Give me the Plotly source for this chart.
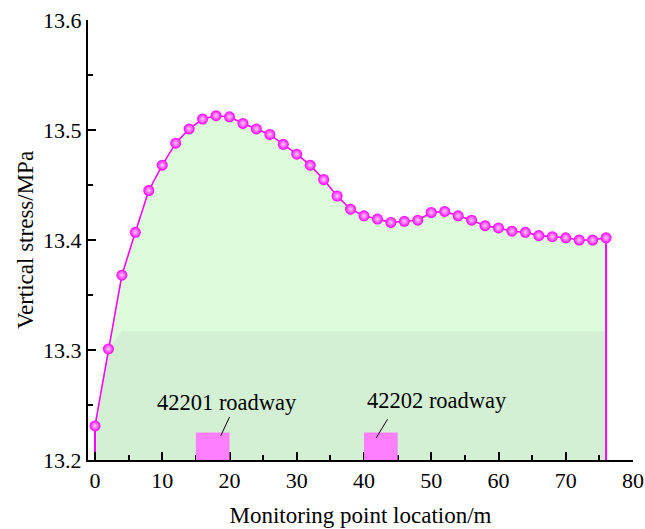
import plotly.graph_objects as go

x_pos = [0, 2, 4, 6, 8, 10, 12, 14, 16, 18, 20, 22, 24, 26, 28, 30, 32, 34, 36, 38,
         40, 42, 44, 46, 48, 50, 52, 54, 56, 58, 60, 62, 64, 66, 68, 70, 72, 74, 76]
stress = [13.231, 13.301, 13.368, 13.407, 13.445, 13.468, 13.488, 13.501, 13.510, 13.513,
          13.512, 13.506, 13.501, 13.496, 13.487, 13.478, 13.468, 13.455, 13.440, 13.428,
          13.422, 13.419, 13.416, 13.417, 13.418, 13.425, 13.426, 13.422, 13.418, 13.413,
          13.411, 13.408, 13.407, 13.404, 13.403, 13.402, 13.400, 13.400, 13.402]
band_level = 13.317
roadways = ["42201 roadway", "42202 roadway"]
road_x0 = [15, 40]
road_x1 = [20, 45]
road_top = 13.225
label_x = [19.7, 50.9]
label_y = [13.252, 13.254]
leader = [((20.0, 13.239), (18.7, 13.222)), ((43.5, 13.237), (41.8, 13.220))]

ymin, ymax = 13.2, 13.6
font = "Liberation Serif, Times New Roman, serif"

fig = go.Figure()
fig.add_trace(go.Scatter(x=x_pos, y=stress, mode="none", fill="tozeroy",
                         fillcolor="#dcfcdc", showlegend=False, hoverinfo="skip"))
fig.add_trace(go.Scatter(x=x_pos, y=[min(v, band_level) for v in stress], mode="none",
                         fill="tozeroy", fillcolor="#d4f0d4", showlegend=False, hoverinfo="skip"))
for xe, ye in [(x_pos[0], stress[0]), (x_pos[-1], stress[-1])]:
    fig.add_trace(go.Scatter(x=[xe, xe], y=[ymin, ye], mode="lines",
                             line=dict(color="#ff00ff", width=2), showlegend=False))
fig.add_trace(go.Scatter(x=x_pos, y=stress, mode="lines+markers",
                         line=dict(color="#ff00ff", width=1.6),
                         marker=dict(size=11, color="#ff00ff",
                                     gradient=dict(type="radial", color="#ffd0ff"),
                                     line=dict(width=0)),
                         showlegend=False))

for name, a, b, lx, ly, ((x1, y1), (x2, y2)) in zip(roadways, road_x0, road_x1, label_x, label_y, leader):
    fig.add_shape(type="rect", x0=a, x1=b, y0=ymin, y1=road_top,
                  fillcolor="#ff80ff", line=dict(width=0), layer="above")
    fig.add_shape(type="line", x0=x1, y0=y1, x1=x2, y1=y2,
                  line=dict(color="black", width=1))
    fig.add_annotation(x=lx, y=ly, text=name, showarrow=False,
                       font=dict(family=font, size=22.5, color="black"))

axis_common = dict(showline=True, linecolor="black", linewidth=2, ticks="inside",
                   tickcolor="black", tickwidth=2, ticklen=8, showgrid=False, zeroline=False,
                   automargin=False,
                   tickfont=dict(family=font, size=22, color="black"))
fig.update_xaxes(range=[-1.04, 80], dtick=10, tick0=0,
                 minor=dict(dtick=5, ticks="inside", ticklen=5, tickcolor="black", tickwidth=1.5),
                 title=dict(text="Monitoring point location/m", font=dict(family=font, size=23, color="black"),
                            standoff=14),
                 **axis_common)
fig.update_yaxes(range=[ymin, ymax], dtick=0.1, tick0=13.2, tickformat=".1f",
                 minor=dict(dtick=0.05, ticks="inside", ticklen=5, tickcolor="black", tickwidth=1.5),
                 title=dict(text="Vertical stress/MPa", font=dict(family=font, size=23, color="black"),
                            standoff=3),
                 **axis_common)

fig.update_layout(width=645, height=529, margin=dict(l=88, r=12, t=20, b=69),
                  plot_bgcolor="white", paper_bgcolor="white")

fig.write_html("out.html")
